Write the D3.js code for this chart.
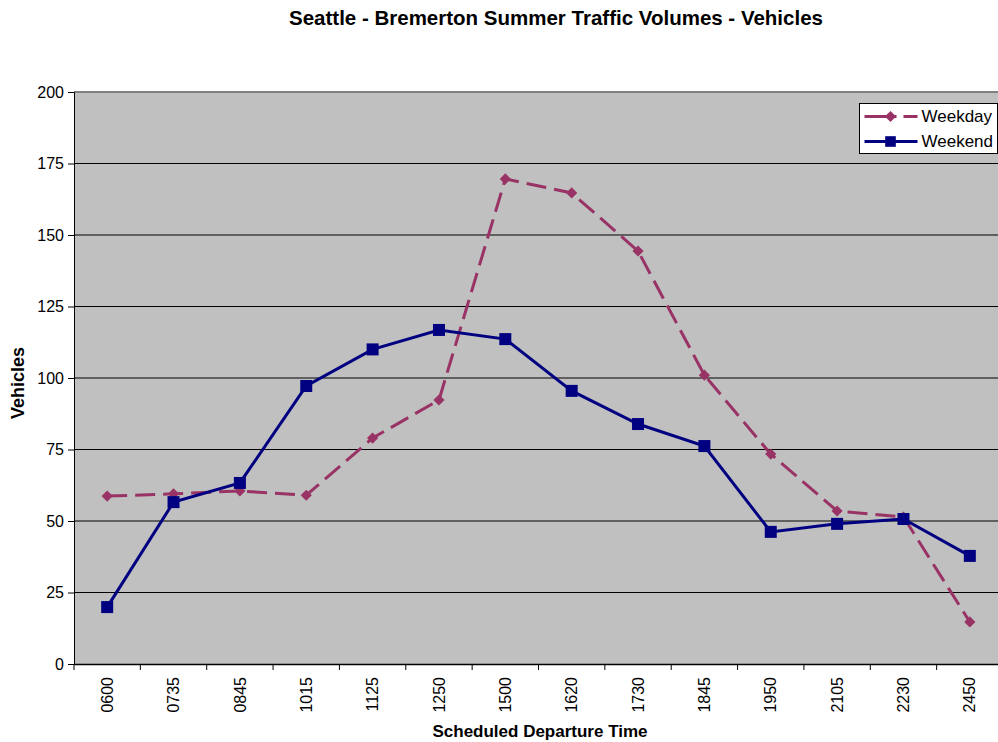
<!DOCTYPE html>
<html>
<head>
<meta charset="utf-8">
<script src="https://cdn.jsdelivr.net/npm/d3@7"></script>
<style>
  body { margin: 0; background: #fff; }
  text { font-family: "Liberation Sans", Arial, sans-serif; }
</style>
</head>
<body>
<div id="chart"></div>
<script>
// departure times and vehicle counts
var departures = ["0600", "0735", "0845", "1015", "1125", "1250", "1500",
    "1620", "1730", "1845", "1950", "2105", "2230", "2450"];
var weekday = [58.7, 59.5, 60.5, 59, 79, 92.3, 169.6, 164.7, 144.4, 101, 73.4, 53.5, 51.4, 14.7];
var weekend = [19.9, 56.6, 63.3, 97.2, 110, 116.8, 113.6, 95.5, 83.9, 76.2, 46.2, 49, 50.7, 37.8];
var yTicks = [0, 25, 50, 75, 100, 125, 150, 175, 200];

var width = 998,
    height = 742;
var margin = { top: 92, right: -5, bottom: 78, left: 74 },
    w = width - margin.left - margin.right,
    h = height - margin.top - margin.bottom;

var svg = d3.select("#chart").append("svg")
    .attr("width", width)
    .attr("height", height);

var g = svg.append("g")
    .attr("transform", "translate(" + margin.left + "," + margin.top + ")");

var x = d3.scaleBand()
    .domain(departures)
    .range([0, w]);
var y = d3.scaleLinear()
    .domain([0, 200])
    .range([h, 0]);

// plot background
g.append("rect")
    .attr("width", w)
    .attr("height", h)
    .attr("fill", "#c0c0c0");

// gridlines
g.selectAll(".grid")
    .data(yTicks.slice(1, -1))
    .enter().append("line")
    .attr("x1", 0)
    .attr("x2", w)
    .attr("y1", function (d) { return y(d); })
    .attr("y2", function (d) { return y(d); })
    .attr("stroke", "#000")
    .attr("stroke-width", 1);

// top border
g.append("line")
    .attr("x1", 0).attr("x2", w)
    .attr("y1", y(200)).attr("y2", y(200))
    .attr("stroke", "#808080").attr("stroke-width", 2);

// y axis
var yAxis = g.append("g")
    .call(d3.axisLeft(y).tickValues(yTicks).tickSize(6).tickPadding(4));
yAxis.select(".domain").attr("stroke", "#000");
yAxis.selectAll("text")
    .style("font-size", "16px")
    .attr("fill", "#000");

// x axis with ticks between categories
var xAxis = g.append("g")
    .attr("transform", "translate(0," + h + ")")
    .call(d3.axisBottom(x).tickSize(0).tickPadding(8));
xAxis.select(".domain").attr("stroke", "#000").attr("stroke-width", 1.5);
xAxis.selectAll("text")
    .style("font-size", "16px")
    .attr("fill", "#000")
    .attr("transform", "rotate(-90)")
    .attr("x", -13)
    .attr("y", 0)
    .attr("dy", "0.35em")
    .style("text-anchor", "end");

xAxis.selectAll(".sep")
    .data(departures)
    .enter().append("line")
    .attr("x1", function (d) { return x(d); })
    .attr("x2", function (d) { return x(d); })
    .attr("y1", 0)
    .attr("y2", 6)
    .attr("stroke", "#000");

var cx = function (d, i) { return x(departures[i]) + x.bandwidth() / 2; };
var line = d3.line()
    .x(cx)
    .y(function (d) { return y(d); });

// weekday series
g.append("path")
    .datum(weekday)
    .attr("d", line)
    .attr("fill", "none")
    .attr("stroke", "#993366")
    .attr("stroke-width", 3)
    .attr("stroke-dasharray", "20,8");

g.selectAll(".diamond")
    .data(weekday)
    .enter().append("path")
    .attr("d", d3.symbol().type(d3.symbolDiamond2).size(80))
    .attr("transform", function (d, i) { return "translate(" + cx(d, i) + "," + y(d) + ")"; })
    .attr("fill", "#993366");

// weekend series
g.append("path")
    .datum(weekend)
    .attr("d", line)
    .attr("fill", "none")
    .attr("stroke", "#000080")
    .attr("stroke-width", 3);

g.selectAll(".square")
    .data(weekend)
    .enter().append("rect")
    .attr("x", function (d, i) { return cx(d, i) - 6; })
    .attr("y", function (d) { return y(d) - 6; })
    .attr("width", 12)
    .attr("height", 12)
    .attr("fill", "#000080");

// title
svg.append("text")
    .attr("x", 556)
    .attr("y", 25)
    .attr("text-anchor", "middle")
    .style("font-size", "20.5px")
    .style("font-weight", "bold")
    .text("Seattle - Bremerton Summer Traffic Volumes - Vehicles");

// axis titles
svg.append("text")
    .attr("transform", "translate(24,383)rotate(-90)")
    .attr("text-anchor", "middle")
    .style("font-size", "18px")
    .style("font-weight", "bold")
    .text("Vehicles");

svg.append("text")
    .attr("x", 540)
    .attr("y", 737)
    .attr("text-anchor", "middle")
    .style("font-size", "17px")
    .style("font-weight", "bold")
    .text("Scheduled Departure Time");

// legend
var legend = svg.append("g").attr("transform", "translate(859.5,103.5)");
legend.append("rect")
    .attr("width", 138)
    .attr("height", 50)
    .attr("fill", "#fff")
    .attr("stroke", "#000");

var items = [
    { name: "Weekday", color: "#993366", dash: "32,7", marker: "diamond" },
    { name: "Weekend", color: "#000080", dash: null, marker: "square" }
];
var li = legend.selectAll(".item")
    .data(items)
    .enter().append("g")
    .attr("transform", function (d, i) { return "translate(0," + (13 + i * 25) + ")"; });
li.append("line")
    .attr("x1", 5).attr("x2", 58)
    .attr("stroke", function (d) { return d.color; })
    .attr("stroke-width", 3)
    .attr("stroke-dasharray", function (d) { return d.dash; });
li.append("path")
    .attr("d", function (d) {
        return d.marker === "diamond"
            ? d3.symbol().type(d3.symbolDiamond2).size(80)()
            : d3.symbol().type(d3.symbolSquare2).size(144)();
    })
    .attr("transform", "translate(31,0)")
    .attr("fill", function (d) { return d.color; });
li.append("text")
    .attr("x", 62)
    .attr("dy", "0.35em")
    .style("font-size", "17px")
    .text(function (d) { return d.name; });
</script>
</body>
</html>
